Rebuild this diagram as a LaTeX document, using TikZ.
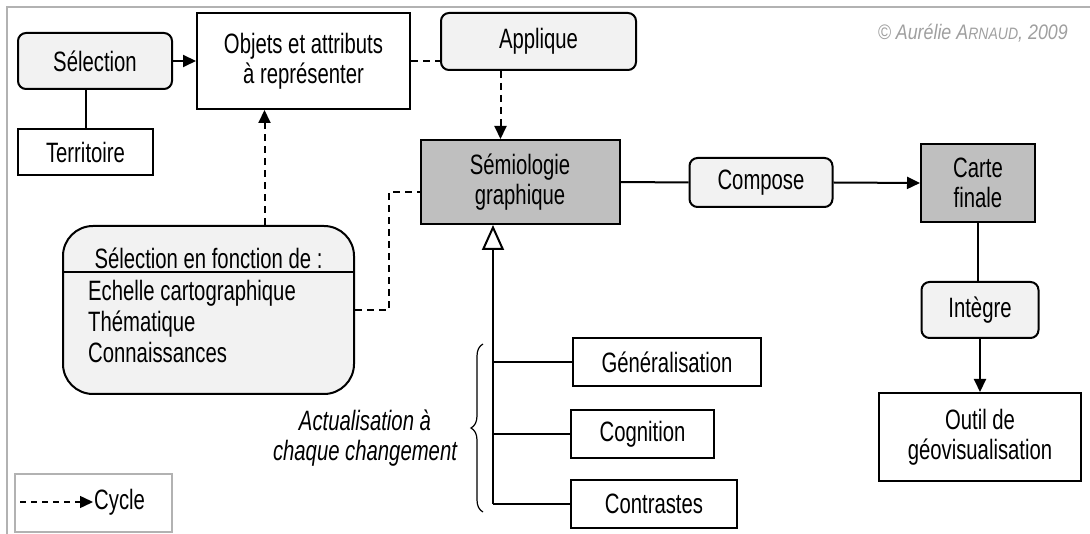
\documentclass[tikz,border=0pt]{standalone}
\usepackage{fontspec}
\setmainfont{Liberation Sans}[FakeStretch=0.725]
\newfontfamily\copyfont{Liberation Sans}[FakeStretch=0.85]
\usetikzlibrary{arrows.meta,decorations.pathreplacing,calc}
\begin{document}
\begin{tikzpicture}[x=1pt,y=-1pt,
  every node/.style={font=\fontsize{28}{30}\selectfont, inner sep=0pt},
  box/.style={draw, line width=2pt, align=center},
  rbox/.style={box, rounded corners=8pt, fill=gray!10},
  gbox/.style={box, fill=gray!50},
  link/.style={line width=2pt},
  cyc/.style={link, dash pattern=on 7pt off 5pt},
  tip/.style={-{Triangle[length=13pt,width=12pt]}},
  frame/.style={draw=gray!60, line width=1.2pt}
]
\useasboundingbox (0,0) rectangle (1090,534);
% outer frame
\draw[frame] (1090,7) -- (7,7) -- (7,534);

% nodes
\node[rbox, minimum width=154pt, minimum height=56pt] (sel) at (95,61) {Sélection};
\node[box, minimum width=213pt, minimum height=96pt] (obj) at (303.5,61) {Objets et attributs\\à représenter};
\node[rbox, minimum width=195pt, minimum height=57pt] (app) at (538.5,41.5) {Applique};
\node[box, minimum width=135pt, minimum height=46pt] (terr) at (85.5,152) {Territoire};
\node[gbox, minimum width=199pt, minimum height=84pt] (sem) at (520,182) {Sémiologie\\graphique};
\node[rbox, minimum width=143pt, minimum height=49pt] (comp) at (761,182.5) {Compose};
\node[gbox, minimum width=114pt, minimum height=78pt] (carte) at (978,183) {Carte\\finale};
\node[rbox, minimum width=117pt, minimum height=56pt] (integ) at (980,310) {Intègre};
\node[box, minimum width=202pt, minimum height=88pt] (outil) at (980,437) {Outil de\\géovisualisation};
\node[box, minimum width=188pt, minimum height=48pt] (gen) at (667,362) {Généralisation};
\node[box, minimum width=143pt, minimum height=48pt] (cog) at (642.5,434) {Cognition};
\node[box, minimum width=166pt, minimum height=48pt] (con) at (654,504) {Contrastes};

% big selection box
\node[box, rounded corners=30pt, fill=gray!10, minimum width=291pt, minimum height=168pt] (selfn) at (208.5,310) {};
\draw[link] ([yshift=-47pt]selfn.north west) -- ([yshift=-47pt]selfn.north east);
\node (selt) at (208.5,258) {Sélection en fonction de :};
\node[anchor=west, align=left, font=\fontsize{28}{31}\selectfont] (selitems) at (88,321) {Echelle cartographique\\Thématique\\Connaissances};

% copyright
\node[anchor=east, text=gray!75, font=\copyfont\itshape\fontsize{21}{24}\selectfont] (copy) at (1068,33) {© Aurélie A{\fontsize{16.5}{20}\selectfont RNAUD}, 2009};

% actualisation
\node[align=center, font=\itshape\fontsize{28}{30}\selectfont] (actu) at (365,438) {Actualisation à\\chaque changement};
\coordinate (brb) at (483,512);
\coordinate (brt) at (483,344);
\draw[line width=1.2pt, decorate, decoration={brace, amplitude=12pt}] (brb) -- (brt);

% connectors
\draw[link, tip] (sel.east) -- (sel.east -| obj.west);
\draw[link] (terr.north |- sel.south) -- (terr.north);
\draw[cyc] (obj.east) -- (obj.east -| app.west);
\draw[cyc, tip] ([xshift=-38pt]app.south) -- ([xshift=-38pt]app.south |- sem.north);
\draw[cyc, tip] ([xshift=-39pt]obj.south |- selfn.north) -- ([xshift=-39pt]obj.south);
\draw[cyc] (selfn.east) -- ++(34,0) |- ([yshift=-10pt]sem.west);
\draw[link] (sem.east) -- (comp.west);
\draw[link, tip] (comp.east) -- (carte.west);
\draw[link] (carte.south) -- (carte.south |- integ.north);
\draw[link, tip] (integ.south) -- (outil.north);

% generalisation tree
\coordinate (tb) at (493,504);
\draw[link, -{Triangle[open, fill=white, length=25pt, width=22pt]}] (tb) -- (tb |- sem.south);
\draw[link] (tb |- gen.west) -- (gen.west);
\draw[link] (tb |- cog.west) -- (cog.west);
\draw[link] (tb) -- (con.west);

% legend
\draw[frame, line width=1.5pt] (15,474) rectangle (172,532);
\coordinate (l1) at (20,502);
\node[anchor=west] (cyl) at (94,502) {Cycle};
\draw[cyc, line width=1.5pt, dash pattern=on 6pt off 5pt, tip, shorten >=1pt] (l1) -- (cyl.west);
\end{tikzpicture}
\end{document}
